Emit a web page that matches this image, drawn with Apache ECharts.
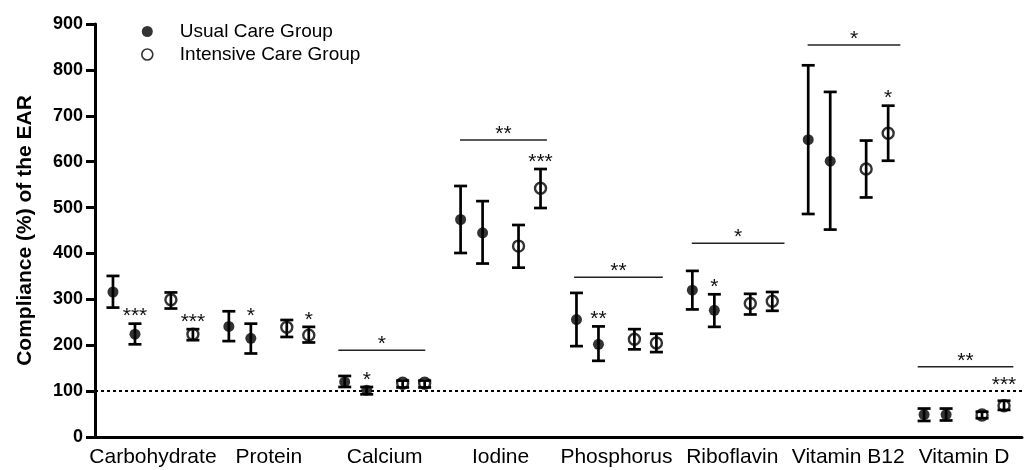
<!DOCTYPE html>
<html>
<head>
<meta charset="utf-8">
<script src="https://cdn.jsdelivr.net/npm/echarts@6/dist/echarts.min.js"></script>
<style>
  html, body { margin: 0; padding: 0; background: #fff; }
  #chart { width: 1026px; height: 470px; }
</style>
</head>
<body>
<div id="chart"></div>
<script>
// ---------------- data ----------------
const nutrients = ['Carbohydrate', 'Protein', 'Calcium', 'Iodine', 'Phosphorus', 'Riboflavin', 'Vitamin B12', 'Vitamin D'];
const groups = ['Usual Care Group', 'Intensive Care Group'];

// [lower, mean, upper] per nutrient
const usualBaseline     = [[282, 316, 351], [209, 241, 274], [109, 120, 133], [401, 474, 547], [198, 256, 314], [278, 320, 362], [486, 648, 810], [35, 49, 62]];
const usualFollowUp     = [[202, 224, 247], [182, 215, 247], [93, 102, 109], [378, 445, 514], [166, 202, 241], [240, 276, 311], [452, 601, 752], [36, 49, 62]];
const intensiveBaseline = [[280, 299, 315], [218, 239, 255], [108, 117, 123], [369, 416, 462], [191, 213, 235], [267, 291, 312], [522, 584, 646], [41, 48, 55]];
const intensiveFollowUp = [[211, 224, 235], [206, 222, 240], [108, 117, 123], [499, 542, 584], [185, 205, 225], [275, 296, 316], [602, 662, 722], [59, 68, 79]];

const yMin = 0, yMax = 900, yStep = 100;
const earReference = 100;

// significance of a follow-up point: [nutrient index, group index (0 usual, 1 intensive), label]
const pointStars = [[0, 0, '***'], [0, 1, '***'], [1, 0, '*'], [1, 1, '*'], [2, 0, '*'], [3, 1, '***'], [4, 0, '**'], [5, 0, '*'], [6, 1, '*'], [7, 1, '***']];
// group comparison brackets: [from slot, to slot, value, label]
const brackets = [[3.7, 5.2, 189, '*'], [5.8, 7.3, 647, '**'], [7.77, 9.3, 348, '**'], [9.8, 11.4, 422, '*'], [11.8, 13.4, 854, '*'], [13.7, 15.35, 153, '**']];

// ---------------- build ----------------
const slots = [];
nutrients.forEach(n => groups.forEach(g => slots.push(n + ' / ' + g)));

const SHIFT = 11; // px between baseline / follow-up within a slot
const FONT = 'Liberation Sans, Arial, Helvetica, sans-serif';
const STAR_SIZE = 21;

const groupSeries = [[usualBaseline, usualFollowUp], [intensiveBaseline, intensiveFollowUp]];

function scatterData(g) {
  const out = [];
  nutrients.forEach((n, i) => {
    const slot = 2 * i + g;
    out.push({ value: [slot, groupSeries[g][0][i][1]], symbolOffset: [-SHIFT, 0] });
    out.push({ value: [slot, groupSeries[g][1][i][1]], symbolOffset: [SHIFT, 0] });
  });
  return out;
}

const errorRows = [];
[0, 1].forEach(g => nutrients.forEach((n, i) => {
  const slot = 2 * i + g;
  [0, 1].forEach(t => {
    const r = groupSeries[g][t][i];
    errorRows.push([slot, r[0], r[1], r[2], t === 0 ? -1 : 1]);
  });
}));

const starRows = pointStars.map(s => [2 * s[0] + s[1], groupSeries[s[1]][1][s[0]][2]]);
const bracketRows = brackets.map(b => [b[0], b[2]]);

function slotX(api, v) {
  const i = Math.round(v);
  const band = api.size([1, 0])[0];
  return api.coord([i, 0])[0] + (v - i) * band;
}

const chart = echarts.init(document.getElementById('chart'), null, { renderer: 'canvas' });
chart.setOption({
  animation: false,
  backgroundColor: '#fff',
  textStyle: { fontFamily: FONT },
  grid: { left: 95, right: 4, top: 24, bottom: 33, containLabel: false, outerBoundsMode: 'none' },
  legend: {
    orient: 'vertical', left: 136, top: 17, itemWidth: 11, itemHeight: 11, itemGap: 4,
    selectedMode: false,
    textStyle: { fontSize: 19, color: '#000', fontFamily: FONT, padding: [0, 0, 0, 22] },
    data: [
      { name: groups[0], icon: 'circle', itemStyle: { color: '#000', borderWidth: 0 } },
      { name: groups[1], icon: 'circle', itemStyle: { color: '#fff', borderColor: '#000', borderWidth: 1.6 } }
    ]
  },
  xAxis: [
    {
      type: 'category', data: slots, position: 'bottom', boundaryGap: true,
      axisLine: { onZero: false, lineStyle: { color: '#000', width: 3 } },
      axisTick: { alignWithLabel: true, length: 11, lineStyle: { color: '#000', width: 3 } },
      axisLabel: { show: false }, splitLine: { show: false }
    },
    {
      type: 'category', data: slots, position: 'bottom', boundaryGap: true,
      axisLine: { show: false, onZero: false },
      axisTick: { alignWithLabel: true, inside: true, length: 10, lineStyle: { color: '#000', width: 3 } },
      axisLabel: { show: false }, splitLine: { show: false }
    },
    {
      type: 'category', data: nutrients, position: 'bottom', boundaryGap: true,
      axisLine: { show: false, onZero: false }, axisTick: { show: false },
      axisLabel: { fontSize: 21, color: '#000', fontFamily: FONT, margin: 10, interval: 0 },
      splitLine: { show: false }
    }
  ],
  yAxis: {
    type: 'value', min: yMin, max: yMax, interval: yStep,
    name: 'Compliance (%) of the EAR', nameLocation: 'middle', nameGap: 59,
    nameTextStyle: { fontSize: 21, fontWeight: 'bold', color: '#000', fontFamily: FONT },
    axisLine: { show: true, lineStyle: { color: '#000', width: 3 } },
    axisTick: { show: true, length: 9, lineStyle: { color: '#000', width: 3 } },
    axisLabel: { fontSize: 18, fontWeight: 'bold', color: '#000', margin: 12, fontFamily: FONT },
    splitLine: { show: false }
  },
  series: [
    {
      type: 'custom', name: 'errors', xAxisIndex: 0, z: 2, silent: true,
      data: errorRows, encode: { x: 0, y: 2 },
      renderItem: function (params, api) {
        const dx = api.value(4) * SHIFT;
        const lo = api.coord([api.value(0), api.value(1)]);
        const hi = api.coord([api.value(0), api.value(3)]);
        const x = lo[0] + dx;
        const st = { stroke: '#000', lineWidth: 2.7 };
        return {
          type: 'group', children: [
            { type: 'line', shape: { x1: x, y1: lo[1], x2: x, y2: hi[1] }, style: st },
            { type: 'line', shape: { x1: x - 6.5, y1: lo[1], x2: x + 6.5, y2: lo[1] }, style: st },
            { type: 'line', shape: { x1: x - 6.5, y1: hi[1], x2: x + 6.5, y2: hi[1] }, style: st }
          ]
        };
      }
    },
    {
      type: 'scatter', name: groups[0], xAxisIndex: 0, z: 3, silent: true,
      symbol: 'circle', symbolSize: 11, itemStyle: { color: '#000' },
      data: scatterData(0),
      markLine: {
        silent: true, symbol: 'none', label: { show: false },
        lineStyle: { color: '#000', width: 2, type: [3, 3] },
        data: [{ yAxis: earReference }]
      }
    },
    {
      type: 'scatter', name: groups[1], xAxisIndex: 0, z: 3, silent: true,
      symbol: 'circle', symbolSize: 11,
      itemStyle: { color: 'rgba(255,255,255,0)', borderColor: '#000', borderWidth: 2.4 },
      data: scatterData(1)
    },
    {
      type: 'custom', name: 'pointStars', xAxisIndex: 0, z: 4, silent: true,
      data: starRows, encode: { x: 0, y: 1 },
      renderItem: function (params, api) {
        const s = pointStars[params.dataIndex];
        const p = api.coord([api.value(0), api.value(1)]);
        const yRef = api.coord([0, earReference])[1];
        let ty = p[1] - 7;
        // keep the label clear of the dotted EAR reference line
        if (ty > yRef - 8 && ty < yRef + 12) ty = yRef - 6;
        return {
          type: 'text',
          style: { text: s[2], x: p[0] + SHIFT, y: ty, align: 'center', verticalAlign: 'middle', fontSize: STAR_SIZE, fontFamily: FONT, fill: '#111' }
        };
      }
    },
    {
      type: 'custom', name: 'brackets', xAxisIndex: 0, z: 4, silent: true,
      data: bracketRows, encode: { x: 0, y: 1 },
      renderItem: function (params, api) {
        const b = brackets[params.dataIndex];
        const y = api.coord([0, b[2]])[1];
        const x1 = slotX(api, b[0]);
        const x2 = slotX(api, b[1]);
        return {
          type: 'group', children: [
            { type: 'line', shape: { x1: x1, y1: y, x2: x2, y2: y }, style: { stroke: '#222', lineWidth: 1.5 } },
            { type: 'text', style: { text: b[3], x: (x1 + x2) / 2, y: y - 6, align: 'center', verticalAlign: 'middle', fontSize: STAR_SIZE, fontFamily: FONT, fill: '#111' } }
          ]
        };
      }
    }
  ]
});
</script>
</body>
</html>
